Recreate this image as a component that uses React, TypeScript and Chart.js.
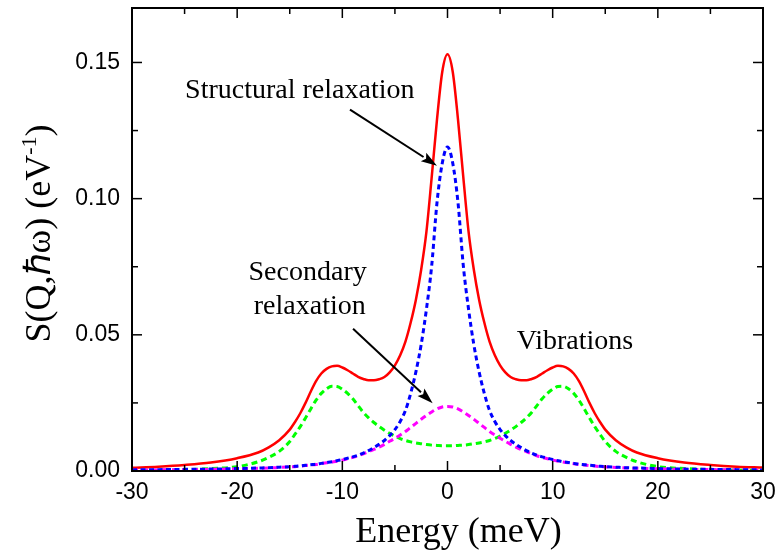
import React, { useEffect, useRef } from "react";
import { Chart, registerables } from "chart.js";

Chart.register(...registerables);

// Energy axis (meV)
const ENERGY = [-30, -27.5, -25, -22.5, -20, -18, -17, -16, -15, -14.5, -14, -13.5, -13, -12.5, -12, -11.5, -11, -10.5, -10, -9.5, -9, -8.5, -8, -7.5, -7, -6.5, -6, -5.5, -5, -4.5, -4, -3.5, -3, -2.5, -2, -1.5, -1, -0.5, 0,
  0.5, 1, 1.5, 2, 2.5, 3, 3.5, 4, 4.5, 5, 5.5, 6, 6.5, 7, 7.5, 8, 8.5, 9, 9.5, 10, 10.5, 11, 11.5, 12, 12.5, 13, 13.5, 14, 14.5, 15, 16, 17, 18, 20, 22.5, 25, 27.5, 30];

// Total S(Q,w) (red solid)
const TOTAL = [0.0012, 0.0016, 0.0022, 0.0031, 0.0047, 0.0068, 0.0087, 0.0113, 0.0152, 0.0180, 0.0212, 0.0250, 0.0292, 0.0330, 0.0358, 0.0375, 0.0384, 0.0386, 0.0380, 0.0370, 0.0358, 0.0346, 0.0338, 0.0333, 0.0333, 0.0337, 0.0345, 0.0362, 0.0388, 0.0425, 0.0475, 0.0545, 0.0630, 0.0740, 0.0880, 0.1080, 0.1290, 0.1465, 0.1530,
  0.1465, 0.1290, 0.1080, 0.0880, 0.0740, 0.0630, 0.0545, 0.0475, 0.0425, 0.0388, 0.0362, 0.0345, 0.0337, 0.0333, 0.0333, 0.0338, 0.0346, 0.0358, 0.0370, 0.0380, 0.0386, 0.0384, 0.0375, 0.0358, 0.0330, 0.0292, 0.0250, 0.0212, 0.0180, 0.0152, 0.0113, 0.0087, 0.0068, 0.0047, 0.0031, 0.0022, 0.0016, 0.0013];

// Structural relaxation (blue dashed)
const STRUCTURAL = [0.0004, 0.0005, 0.0006, 0.0007, 0.0009, 0.0011, 0.0012, 0.0014, 0.0016, 0.0017, 0.0019, 0.0021, 0.0023, 0.0025, 0.0028, 0.0031, 0.0034, 0.0038, 0.0042, 0.0047, 0.0052, 0.0058, 0.0066, 0.0075, 0.0086, 0.0098, 0.0112, 0.0130, 0.0152, 0.0182, 0.0222, 0.0285, 0.0365, 0.0465, 0.0595, 0.0755, 0.0985, 0.1130, 0.1190,
  0.1130, 0.0985, 0.0755, 0.0595, 0.0465, 0.0365, 0.0285, 0.0222, 0.0182, 0.0152, 0.0130, 0.0112, 0.0098, 0.0086, 0.0075, 0.0066, 0.0058, 0.0052, 0.0047, 0.0042, 0.0038, 0.0034, 0.0031, 0.0028, 0.0025, 0.0023, 0.0021, 0.0019, 0.0017, 0.0016, 0.0014, 0.0012, 0.0011, 0.0009, 0.0007, 0.0006, 0.0005, 0.0004];

// Secondary relaxation (magenta dashed)
const SECONDARY = [0.0003, 0.0004, 0.0005, 0.0006, 0.0008, 0.0010, 0.0011, 0.0013, 0.0015, 0.0016, 0.0018, 0.0020, 0.0022, 0.0024, 0.0027, 0.0030, 0.0033, 0.0036, 0.0040, 0.0045, 0.0050, 0.0056, 0.0063, 0.0071, 0.0079, 0.0088, 0.0098, 0.0109, 0.0120, 0.0132, 0.0145, 0.0160, 0.0175, 0.0190, 0.0204, 0.0217, 0.0228, 0.0235, 0.0237,
  0.0235, 0.0228, 0.0217, 0.0204, 0.0190, 0.0175, 0.0160, 0.0145, 0.0132, 0.0120, 0.0109, 0.0098, 0.0088, 0.0079, 0.0071, 0.0063, 0.0056, 0.0050, 0.0045, 0.0040, 0.0036, 0.0033, 0.0030, 0.0027, 0.0024, 0.0022, 0.0020, 0.0018, 0.0016, 0.0015, 0.0013, 0.0011, 0.0010, 0.0008, 0.0006, 0.0005, 0.0004, 0.0003];

// Vibrations (green dashed)
const VIBRATIONS = [0.0002, 0.0003, 0.0005, 0.0009, 0.0016, 0.0034, 0.0050, 0.0072, 0.0108, 0.0135, 0.0163, 0.0195, 0.0228, 0.0260, 0.0285, 0.0302, 0.0311, 0.0310, 0.0300, 0.0285, 0.0265, 0.0240, 0.0215, 0.0195, 0.0178, 0.0163, 0.0150, 0.0138, 0.0128, 0.0119, 0.0112, 0.0107, 0.0103, 0.0100, 0.0097, 0.0095, 0.0094, 0.0093, 0.0093,
  0.0093, 0.0094, 0.0095, 0.0097, 0.0100, 0.0103, 0.0107, 0.0112, 0.0119, 0.0128, 0.0138, 0.0150, 0.0163, 0.0178, 0.0195, 0.0215, 0.0240, 0.0265, 0.0285, 0.0300, 0.0310, 0.0311, 0.0302, 0.0285, 0.0260, 0.0228, 0.0195, 0.0163, 0.0135, 0.0108, 0.0072, 0.0050, 0.0034, 0.0016, 0.0009, 0.0005, 0.0003, 0.0002];

const X_TICKS = [-30, -20, -10, 0, 10, 20, 30];
const X_MINOR = [-25, -15, -5, 5, 15, 25];
const Y_TICKS = [0, 0.05, 0.1, 0.15];
const Y_TICK_LABELS = ["0.00", "0.05", "0.10", "0.15"];
const Y_MINOR = [0.025, 0.075, 0.125];

const X_TITLE = "Energy (meV)";
const Y_TITLE_MAIN = "S(Q,\u210Fω) (eV";
const Y_TITLE_SUP = "-1";
const Y_TITLE_END = ")";

const SERIF = "'Liberation Serif', 'Times New Roman', serif";
const SANS = "'Liberation Sans', Arial, sans-serif";

// annotations in data coordinates
const LABELS = [
  { text: "Structural relaxation", x: -24.95, y: 0.1368, align: "left" },
  { text: "Secondary", x: -13.3, y: 0.0702, align: "center" },
  { text: "relaxation", x: -13.1, y: 0.0577, align: "center" },
  { text: "Vibrations", x: 6.58, y: 0.0449, align: "left" },
];
const ARROWS = [
  { x1: -9.27, y1: 0.1327, x2: -1.0, y2: 0.1121 },
  { x1: -8.98, y1: 0.0522, x2: -1.41, y2: 0.0249 },
];

const pts = (ys: number[]) => ENERGY.map((x, i) => ({ x, y: ys[i] }));

const overlay = {
  id: "overlay",
  afterDatasetsDraw(chart: any) {
    const { ctx, chartArea: a, scales } = chart;
    const xs = scales.x;
    const ys = scales.y;
    ctx.save();
    ctx.strokeStyle = "#000";
    ctx.lineWidth = 2;
    ctx.strokeRect(a.left, a.top, a.right - a.left, a.bottom - a.top);
    ctx.lineWidth = 1.5;
    const tick = (x1: number, y1: number, x2: number, y2: number) => {
      ctx.beginPath();
      ctx.moveTo(x1, y1);
      ctx.lineTo(x2, y2);
      ctx.stroke();
    };
    X_TICKS.forEach((v) => {
      const p = xs.getPixelForValue(v);
      tick(p, a.bottom, p, a.bottom - 10);
      tick(p, a.top, p, a.top + 10);
    });
    X_MINOR.forEach((v) => {
      const p = xs.getPixelForValue(v);
      tick(p, a.bottom, p, a.bottom - 6);
      tick(p, a.top, p, a.top + 6);
    });
    Y_TICKS.forEach((v) => {
      const p = ys.getPixelForValue(v);
      tick(a.left, p, a.left + 10, p);
      tick(a.right, p, a.right - 10, p);
    });
    Y_MINOR.forEach((v) => {
      const p = ys.getPixelForValue(v);
      tick(a.left, p, a.left + 6, p);
      tick(a.right, p, a.right - 6, p);
    });

    // annotations
    ctx.fillStyle = "#000";
    ctx.font = `28px ${SERIF}`;
    ctx.textBaseline = "alphabetic";
    LABELS.forEach((l) => {
      ctx.textAlign = l.align as CanvasTextAlign;
      ctx.fillText(l.text, xs.getPixelForValue(l.x), ys.getPixelForValue(l.y));
    });
    ctx.lineWidth = 2;
    ARROWS.forEach((ar) => {
      const x1 = xs.getPixelForValue(ar.x1);
      const y1 = ys.getPixelForValue(ar.y1);
      const x2 = xs.getPixelForValue(ar.x2);
      const y2 = ys.getPixelForValue(ar.y2);
      const ang = Math.atan2(y2 - y1, x2 - x1);
      const hl = 16;
      const hw = 5;
      const bx = x2 - hl * Math.cos(ang);
      const by = y2 - hl * Math.sin(ang);
      ctx.beginPath();
      ctx.moveTo(x1, y1);
      ctx.lineTo(bx, by);
      ctx.stroke();
      ctx.beginPath();
      ctx.moveTo(x2, y2);
      ctx.lineTo(bx + hw * Math.sin(ang), by - hw * Math.cos(ang));
      ctx.lineTo(bx + 3 * Math.cos(ang), by + 3 * Math.sin(ang));
      ctx.lineTo(bx - hw * Math.sin(ang), by + hw * Math.cos(ang));
      ctx.closePath();
      ctx.fill();
    });

    // axis titles
    ctx.font = `36px ${SERIF}`;
    ctx.textAlign = "center";
    ctx.fillText(X_TITLE, (a.left + a.right) / 2 + 11, 542);

    ctx.translate(50, (a.top + a.bottom) / 2 - 6);
    ctx.rotate(-Math.PI / 2);
    ctx.textAlign = "left";
    ctx.font = `36px ${SERIF}`;
    const w1 = ctx.measureText(Y_TITLE_MAIN).width;
    ctx.font = `22px ${SERIF}`;
    const w2 = ctx.measureText(Y_TITLE_SUP).width;
    ctx.font = `36px ${SERIF}`;
    const w3 = ctx.measureText(Y_TITLE_END).width;
    let sx = -(w1 + w2 + w3) / 2;
    ctx.fillText(Y_TITLE_MAIN, sx, 0);
    sx += w1;
    ctx.font = `22px ${SERIF}`;
    ctx.fillText(Y_TITLE_SUP, sx, -14);
    sx += w2;
    ctx.font = `36px ${SERIF}`;
    ctx.fillText(Y_TITLE_END, sx, 0);
    ctx.restore();
  },
};

const zeroPad = (s: any) => {
  s.paddingLeft = 0;
  s.paddingRight = 0;
  s.paddingTop = 0;
  s.paddingBottom = 0;
};

export default function App() {
  const ref = useRef<HTMLCanvasElement | null>(null);
  useEffect(() => {
    if (!ref.current) return;
    const common = { pointRadius: 0, fill: false, cubicInterpolationMode: "monotone" as const };
    const chart = new Chart(ref.current, {
      type: "line",
      data: {
        datasets: [
          { label: "Total", data: pts(TOTAL), borderColor: "#ff0000", borderWidth: 2.5, order: 4, ...common },
          { label: "Vibrations", data: pts(VIBRATIONS), borderColor: "#00ff00", borderWidth: 3, borderDash: [6, 4], order: 3, ...common },
          { label: "Secondary relaxation", data: pts(SECONDARY), borderColor: "#ff00ff", borderWidth: 3, borderDash: [6, 4], order: 2, ...common },
          { label: "Structural relaxation", data: pts(STRUCTURAL), borderColor: "#0000ff", borderWidth: 3, borderDash: [5, 3.5], order: 1, ...common },
        ],
      },
      plugins: [overlay],
      options: {
        animation: false,
        responsive: false,
        devicePixelRatio: 1,
        layout: { padding: { left: 0, right: 16, top: 8, bottom: 0 } },
        plugins: { legend: { display: false }, tooltip: { enabled: false } },
        scales: {
          x: {
            type: "linear",
            min: -30,
            max: 30,
            grid: { display: false, drawTicks: false },
            border: { display: false },
            afterBuildTicks: (s: any) => {
              s.ticks = X_TICKS.map((v) => ({ value: v }));
            },
            afterFit: (s: any) => {
              s.height = 81;
              zeroPad(s);
            },
            ticks: {
              padding: 8,
              color: "#000",
              font: { family: SANS, size: 23 },
              maxRotation: 0,
              callback: (v: any) => String(v),
            },
          },
          y: {
            type: "linear",
            min: 0,
            max: 0.17,
            grid: { display: false, drawTicks: false },
            border: { display: false },
            afterBuildTicks: (s: any) => {
              s.ticks = Y_TICKS.map((v) => ({ value: v }));
            },
            afterFit: (s: any) => {
              s.width = 132;
              zeroPad(s);
            },
            ticks: {
              padding: 12,
              color: "#000",
              font: { family: SANS, size: 23 },
              callback: (v: any) => {
                const i = Y_TICKS.findIndex((t) => Math.abs(t - v) < 1e-9);
                return i >= 0 ? Y_TICK_LABELS[i] : "";
              },
            },
          },
        },
      },
    });
    return () => chart.destroy();
  }, []);
  return (
    <div style={{ position: "fixed", left: 0, top: 0, width: 779, height: 552, background: "#fff" }}>
      <canvas ref={ref} width={779} height={552} style={{ display: "block" }} />
    </div>
  );
}
